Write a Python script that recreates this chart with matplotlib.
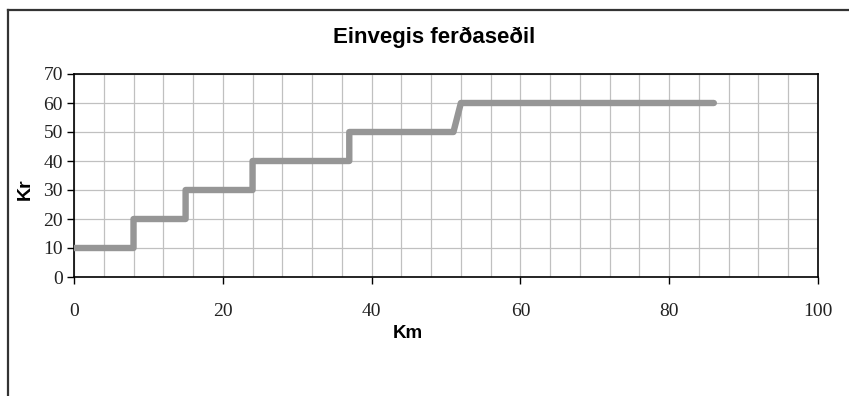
import matplotlib
matplotlib.use("Agg")
import matplotlib.pyplot as plt
from matplotlib.ticker import MultipleLocator
from matplotlib.lines import Line2D

# Data
km = [0, 8, 8, 15, 15, 24, 24, 37, 37, 51, 52, 86]
kr = [10, 10, 20, 20, 30, 30, 40, 40, 50, 50, 60, 60]
title = "Einvegis ferðaseðil"
xlabel = "Km"
ylabel = "Kr"

W, H = 849, 396
fig = plt.figure(figsize=(W / 100, H / 100), dpi=100)
fig.patch.set_facecolor("white")

# outer chart border (left and top visible only)
fig.add_artist(Line2D([8 / W, 8 / W], [-0.05, 1 - 9.5 / H], transform=fig.transFigure,
                      color="#333333", lw=1.6))
fig.add_artist(Line2D([8 / W, 1.05], [1 - 9.5 / H, 1 - 9.5 / H], transform=fig.transFigure,
                      color="#333333", lw=1.6))

left, right = 74 / W, 818 / W
top, bottom = 1 - 74 / H, 1 - 277 / H
ax = fig.add_axes([left, bottom, right - left, top - bottom])

ax.plot(km, kr, color="#969696", lw=4.6, solid_capstyle="round", solid_joinstyle="round", zorder=3)

ax.set_xlim(0, 100)
ax.set_ylim(0, 70)
ax.xaxis.set_major_locator(MultipleLocator(20))
ax.xaxis.set_minor_locator(MultipleLocator(4))
ax.yaxis.set_major_locator(MultipleLocator(10))

ax.grid(which="both", axis="x", color="#c0c0c0", lw=0.9, zorder=0)
ax.grid(which="major", axis="y", color="#c0c0c0", lw=0.9, zorder=0)
ax.set_axisbelow(True)

for s in ax.spines.values():
    s.set_color("black")
    s.set_linewidth(1.2)

serif = ["Liberation Serif", "DejaVu Serif"]
ax.tick_params(axis="x", which="major", direction="out", length=5, width=1, pad=14,
               labelsize=14, colors="black")
ax.tick_params(axis="x", which="minor", length=0)
ax.tick_params(axis="y", which="major", direction="out", length=5, width=1, pad=3,
               labelsize=14, colors="black")
for lab in ax.get_xticklabels() + ax.get_yticklabels():
    lab.set_fontfamily(serif)
    lab.set_color("#222222")

fig.text(434 / W, 1 - 37 / H, title, ha="center", va="center", fontsize=16,
         fontweight="bold", family=["Liberation Sans", "DejaVu Sans"])
fig.text(408 / W, 1 - 333 / H, xlabel, ha="center", va="center", fontsize=13.5,
         fontweight="bold", family=["Liberation Sans", "DejaVu Sans"])
fig.text(25 / W, 1 - 189 / H, ylabel, ha="center", va="center", fontsize=14,
         fontweight="bold", rotation=90, family=["Liberation Sans", "DejaVu Sans"])

fig.savefig("out.png", dpi=100, facecolor="white")
